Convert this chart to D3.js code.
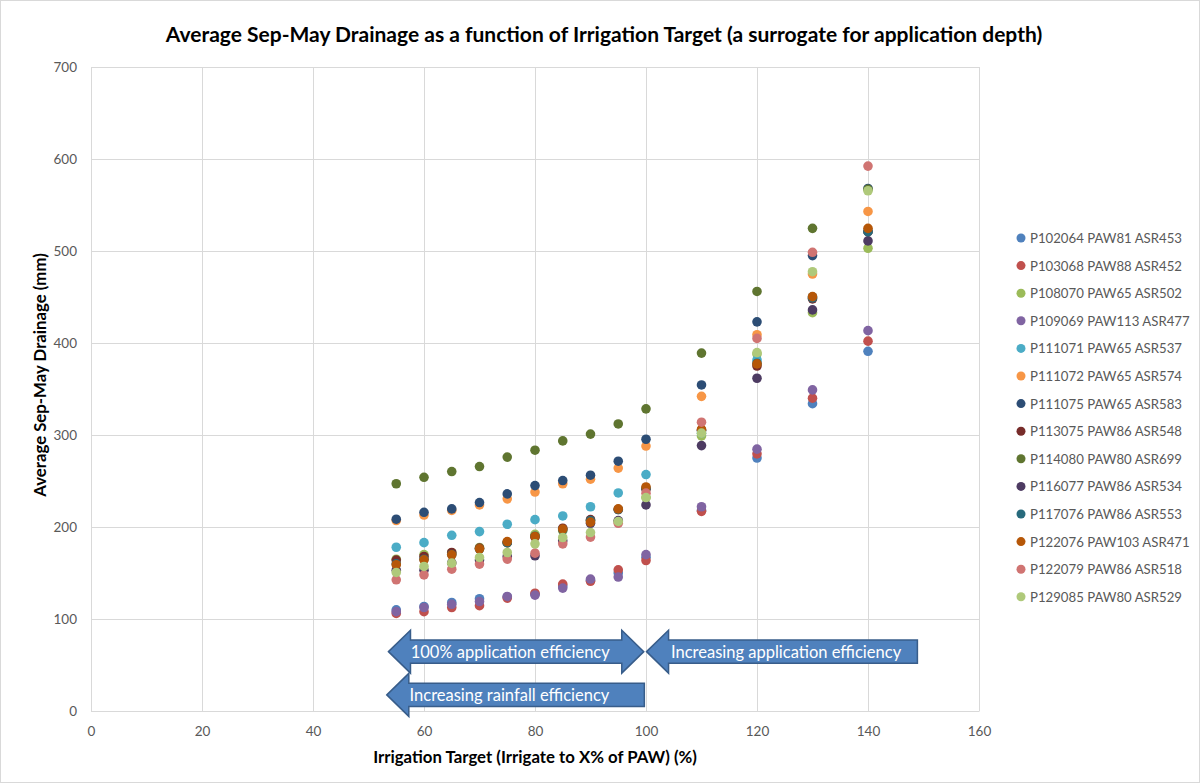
<!DOCTYPE html>
<html>
<head>
<meta charset="utf-8">
<script src="https://cdn.jsdelivr.net/npm/d3@7"></script>
<style>
  body { margin: 0; background: #fff; }
  svg text { font-family: Lato, "Liberation Sans", sans-serif; }
</style>
</head>
<body>
<svg id="chart" width="1200" height="783"></svg>
<script>
// irrigation targets (x values, %)
let targets = [55, 60, 65, 70, 75, 80, 85, 90, 95, 100, 110, 120, 130, 140];

let seriesNames = [
    'P102064 PAW81 ASR453', 'P103068 PAW88 ASR452', 'P108070 PAW65 ASR502',
    'P109069 PAW113 ASR477', 'P111071 PAW65 ASR537', 'P111072 PAW65 ASR574',
    'P111075 PAW65 ASR583', 'P113075 PAW86 ASR548', 'P114080 PAW80 ASR699',
    'P116077 PAW86 ASR534', 'P117076 PAW86 ASR553', 'P122076 PAW103 ASR471',
    'P122079 PAW86 ASR518', 'P129085 PAW80 ASR529'
];
let seriesColors = [
    '#4F81BD', '#C0504D', '#9BBB59', '#8064A2', '#4BACC6', '#F79646', '#2C4D75',
    '#772C2A', '#5F7530', '#4D3B62', '#276A7C', '#B65708', '#D07472', '#AFC97A'
];

// average Sep-May drainage (mm), one array per site
let p102064 = [110, 113.6, 118, 122, 124, 127, 136, 142, 150, 167, 218, 275, 334, 391];
let p103068 = [106, 108, 112.5, 114.5, 122.7, 128, 138, 141, 153.5, 163.6, 217, 279.5, 340, 402];
let p108070 = [165, 170, 172, 177.7, 183, 192, 196, 207, 206, 232, 299, 388, 433, 503];
let p109069 = [108, 112.5, 116, 119, 124.5, 126, 133.6, 143.4, 145.6, 170, 222, 284.6, 349, 413.4];
let p111071 = [178, 183, 191, 195, 203, 208, 212, 222, 237, 257, 302, 381.6, 450, 521];
let p111072 = [207, 213, 218, 224, 230.6, 238, 247, 252, 264, 288, 342, 409, 475, 543];
let p111075 = [208.5, 216, 219.7, 226.6, 236, 245, 250.5, 256.3, 271.5, 295.4, 354.4, 423, 495, 568];
let p113075 = [164, 168, 172.3, 177, 183, 189, 198.7, 208, 219, 241, 305, 375, 448, 521];
let p114080 = [247, 254, 260.3, 265.7, 276, 283.5, 293.6, 301, 312, 328.4, 389, 456, 524.6, 567];
let p116077 = [153, 153, 161, 164, 168, 168.7, 185, 204, 207, 224, 288.5, 361.7, 436, 511];
let p117076 = [160, 165, 170, 176, 183, 190, 197, 207, 219, 242, 305, 378, 449, 521];
let p122076 = [159, 164.3, 169.8, 176.3, 184.2, 189.7, 197.7, 205.3, 219.7, 243.5, 306, 377.3, 450.4, 524.6];
let p122079 = [142.6, 148, 154.2, 159.7, 165.1, 171.6, 181.7, 189, 204, 236.8, 313.9, 405, 498.6, 592.3];
let p129085 = [150.6, 157.1, 160.7, 166.9, 172.3, 181.7, 188.6, 194, 206, 232, 302, 389.6, 477.5, 565.5];

let seriesValues = [p102064, p103068, p108070, p109069, p111071, p111072, p111075,
    p113075, p114080, p116077, p117076, p122076, p122079, p129085];

let xTicks = [0, 20, 40, 60, 80, 100, 120, 140, 160];
let yTicks = [0, 100, 200, 300, 400, 500, 600, 700];

let svg = d3.select('#chart');
let width = +svg.attr('width');
let height = +svg.attr('height');
let pad = {t: 67, r: 221, b: 72, l: 91};
let plotW = width - pad.l - pad.r;
let plotH = height - pad.t - pad.b;

let xScale = d3.scaleLinear().domain([0, 160]).range([0, plotW]);
let yScale = d3.scaleLinear().domain([0, 700]).range([plotH, 0]);

// outer frame
svg.append('rect')
    .attr('x', 0.5).attr('y', 0.5)
    .attr('width', width - 1).attr('height', height - 1)
    .attr('fill', '#fff').attr('stroke', '#D9D9D9');

let g = svg.append('g').attr('transform', `translate(${pad.l},${pad.t})`);

// grid + axes
let yAxis = d3.axisLeft(yScale).tickValues(yTicks).tickSizeInner(-plotW).tickSizeOuter(0).tickPadding(14);
let gy = g.append('g').attr('class', 'y axis').call(yAxis);
gy.select('.domain').remove();
gy.selectAll('line').attr('stroke', '#D9D9D9');
gy.selectAll('text').attr('fill', '#595959').style('font-size', '13.5px');

let xAxis = d3.axisBottom(xScale).tickValues(xTicks).tickSizeInner(-plotH).tickSizeOuter(0).tickPadding(15);
let gx = g.append('g').attr('class', 'x axis')
    .attr('transform', `translate(0,${plotH})`).call(xAxis);
gx.select('.domain').attr('stroke', '#D9D9D9');
gx.selectAll('line').attr('stroke', '#D9D9D9');
gx.selectAll('text').attr('fill', '#595959').style('font-size', '13.5px');

// points
seriesValues.forEach((vals, si) => {
    g.append('g').selectAll('circle')
        .data(vals)
        .enter()
        .append('circle')
        .attr('cx', (d, i) => xScale(targets[i]))
        .attr('cy', d => yScale(d))
        .attr('r', 4.8)
        .attr('fill', seriesColors[si]);
});

// annotation arrows (drawn in data space)
function arrowPath(x0, x1, yc, headL, headR) {
    // x0 left end, x1 right end (pixels); headL/headR: draw head on that side
    let sh = 11.7, hh = 21.5, hw = 22;
    let p = [];
    if (headL) {
        p.push([x0, yc], [x0 + hw, yc - hh], [x0 + hw, yc - sh]);
    } else {
        p.push([x0, yc - sh]);
    }
    if (headR) {
        p.push([x1 - hw, yc - sh], [x1 - hw, yc - hh], [x1, yc], [x1 - hw, yc + hh], [x1 - hw, yc + sh]);
    } else {
        p.push([x1, yc - sh], [x1, yc + sh]);
    }
    if (headL) {
        p.push([x0 + hw, yc + sh], [x0 + hw, yc + hh]);
    } else {
        p.push([x0, yc + sh]);
    }
    return 'M' + p.map(q => q.join(',')).join('L') + 'Z';
}

let arrows = [
    {x0: 53.6, x1: 99.6, y: 64.5, l: true, r: true, text: '100% application efficiency', tx: 57.6},
    {x0: 100.1, x1: 148.9, y: 64.5, l: true, r: false, text: 'Increasing application efficiency', tx: 104.5},
    {x0: 53.3, x1: 99.7, y: 17.5, l: true, r: false, text: 'Increasing rainfall efficiency', tx: 57.4}
];
arrows.forEach(a => {
    g.append('path')
        .attr('d', arrowPath(xScale(a.x0), xScale(a.x1), yScale(a.y), a.l, a.r))
        .attr('fill', '#4F81BD')
        .attr('stroke', '#385D8A')
        .attr('stroke-width', 1.5);
    g.append('text')
        .attr('x', xScale(a.tx))
        .attr('y', yScale(a.y) + 6)
        .attr('fill', '#fff')
        .style('font-size', '16.5px')
        .text(a.text);
});

// title and axis labels
svg.append('text')
    .attr('x', 604).attr('y', 42)
    .attr('text-anchor', 'middle')
    .style('font-size', '21px').style('font-weight', 'bold')
    .attr('fill', '#000')
    .text('Average Sep-May Drainage as a function of Irrigation Target (a surrogate for application depth)');

svg.append('text')
    .attr('x', 535).attr('y', 763)
    .attr('text-anchor', 'middle')
    .style('font-size', '16.8px').style('font-weight', 'bold')
    .attr('fill', '#000')
    .text('Irrigation Target (Irrigate to X% of PAW) (%)');

svg.append('text')
    .attr('transform', 'translate(46,375) rotate(-90)')
    .attr('text-anchor', 'middle')
    .style('font-size', '16.8px').style('font-weight', 'bold')
    .attr('fill', '#000')
    .text('Average Sep-May Drainage (mm)');

// legend
let legend = svg.append('g').attr('transform', 'translate(1021,238)');
let items = legend.selectAll('g')
    .data(seriesNames)
    .enter()
    .append('g')
    .attr('transform', (d, i) => `translate(0,${i * 27.6})`);
items.append('circle').attr('r', 4.5).attr('fill', (d, i) => seriesColors[i]);
items.append('text')
    .attr('x', 9).attr('y', 5)
    .attr('fill', '#595959')
    .style('font-size', '13.2px')
    .text(d => d);
</script>
</body>
</html>
